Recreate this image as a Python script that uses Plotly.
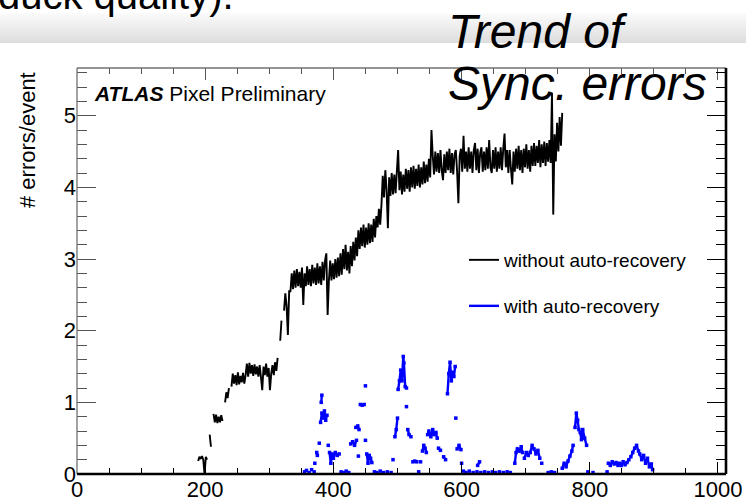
import numpy as np
import plotly.graph_objects as go

# ---------------- data ----------------
# black series "without auto-recovery": values every 2 units starting at 189
black_x0 = 189
black_dx = 2
black_y = [
    0.18, 0.24, 0.21, 0.25, 0.20, 0.00, 0.24, 0.20,              # 189-203
    None,                                                        # 205
    0.55, 0.38,                                                  # 207-209
    None,                                                        # 211
    0.84, 0.72, 0.83, 0.71, 0.80, 0.72, 0.82, 0.74,              # 213-227
    None,                                                        # 229
    1.00, 1.14, 1.06, 1.20,                                      # 231-237
    None,                                                        # 239
    1.22, 1.40, 1.26, 1.38, 1.24, 1.42, 1.25, 1.37, 1.28, 1.41, 1.26,   # 241-261
    1.38, 1.54, 1.36, 1.55, 1.40, 1.52, 1.37, 1.53, 1.39, 1.50,  # 263-281
    1.36, 1.52, 1.35, 1.17, 1.50, 1.38, 1.54, 1.36, 1.48, 1.17,  # 283-301
    1.40, 1.52, 1.38, 1.56, 1.44, 1.62,                          # 303-313
    None,                                                        # 315
    1.86, 2.14,                                                  # 317-319
    None,                                                        # 321
    2.28, 2.52, 2.34, 1.94, 2.55,                                # 323-331
    2.55, 2.80, 2.58, 2.84, 2.60, 2.86, 2.62, 2.82, 2.60, 2.88,  # 333-351
    2.36, 2.80, 2.62, 2.90, 2.64, 2.86, 2.62, 2.92, 2.66, 2.88,  # 353-371
    2.64, 2.94, 2.66, 2.90, 2.64, 2.96, 2.70, 2.98, 3.08, 2.22,  # 373-391
    2.70, 2.98, 2.70, 2.94, 2.72, 3.00, 2.74, 3.02, 2.76,        # 393-409
    3.08, 2.78, 3.14, 2.86, 3.20, 2.84, 3.10, 2.80, 3.18, 2.90,  # 411-429
    3.24, 2.98, 3.30, 3.04,                                      # 431-437
    3.40, 3.14, 3.44, 3.18, 3.48, 3.16, 3.44, 3.20, 3.50, 3.22,  # 439-457
    3.48, 3.24, 3.56, 3.30, 3.60,                                # 459-467
    3.44, 3.70, 3.48, 3.76,                                      # 469-475
    4.16, 3.86, 4.24, 3.96,                                      # 477-483
    3.43,                                                        # 485
    4.14, 3.88, 4.20, 3.90, 4.18, 3.92, 4.22, 4.52, 3.96, 4.22,  # 487-505
    3.90, 4.18, 3.94, 4.26, 3.98, 4.24, 3.94, 4.28, 4.00, 4.30,  # 507-525
    3.98, 4.26, 4.02, 4.32, 4.00, 4.28, 4.04, 4.36, 4.06, 4.32,  # 527-545
    4.08, 4.40, 4.14, 4.80,                                      # 547-553
    4.44, 4.18, 4.50, 4.22, 4.48, 4.20, 4.52, 4.24, 4.10, 4.46,  # 555-573
    4.20, 4.50, 4.24, 4.54, 4.20, 4.48, 4.18, 4.46, 4.52, 4.22,  # 575-593
    3.78, 4.44, 4.54, 4.22, 4.72, 4.26, 4.50, 4.22, 4.56, 4.26,  # 595-613
    4.50, 4.20, 4.52, 4.62, 4.24, 4.54, 4.20, 4.48, 4.56, 4.22,  # 615-633
    4.50, 4.24, 4.56, 4.26, 4.66, 4.28, 4.20, 4.52, 4.26, 4.56,  # 635-653
    4.22, 4.50, 4.26, 4.56, 4.24, 4.54, 4.75, 4.28, 4.52, 4.20,  # 655-673
    4.52, 4.26, 4.04, 4.50, 4.22, 4.54, 4.26, 4.58, 4.24, 4.52,  # 675-693
    4.20, 4.54, 4.28, 4.60, 4.26, 4.52, 4.22, 4.58, 4.30, 4.62,  # 695-713
    4.30, 4.58, 4.34, 4.66, 4.28, 4.60, 4.34, 4.64, 4.30, 4.62,  # 715-733
    4.36, 4.66, 4.34,                                            # 735-739
    5.32, 3.62, 4.74, 4.36, 4.90, 4.50, 4.98, 4.58, 5.04,        # 741-757
]
black_x = [black_x0 + black_dx * i for i in range(len(black_y))]

# blue series "with auto-recovery": sparse clusters (None = gap)
blue_x = [355, None, 358, None, 362, None, 366, None, 370, None, 371, None, 374, 375, None, 378, None,
          381, 382, None, 380, 382, 384, 386, 388, 390, None, 392, None,
          394, 396, 398, 400, 403, 406, 409, None, 412, None, 416, None, 420, None, 424, None,
          427, 430, 433, 436, None, 435, 438, 440, None, 439, None,
          442, 445, 448, None, 450, None, 450, None, 452, 454, 456, 458, 460, None,
          464, None, 468, None, 473, None, 478, None, 484, None, 490, None, 493, None,
          496, 498, 500, None,
          501, 503, 505, 507, 509, 510, 512, 514, None, 514, None,
          516, 518, 521, None, 524, 527, 530, None, 533, None, 536, None,
          539, 541, 543, 545, None, 547, 549, 552, 555, 557, 560, 562, None,
          564, 567, None, 572, 575, None, 578, 580, 582, 584, 586, 588, 590, None,
          591, None, 593, 596, 599, None, 600, None,
          603, None, 607, None, 612, None, 618, None, 624, None, 630, None, 636, None,
          642, None, 648, None, 625, 628, None,
          653, None, 659, None, 665, None, 671, None, 676, None,
          683, 685, 687, 690, 693, 695, None,
          698, 701, 704, 707, 710, 713, 716, 719, 722, None, 725, None,
          735, None, 740, None, 745, None, 757, 760, 763, 766, 769, 772, 774, None,
          777, 779, 781, 783, None, 785, 787, 789, 792, 795, None, 797, None,
          805, None, 827, None, 829, 832, 835, 838, 841, 844, None,
          846, 849, 852, 855, 858, 861, None, 864, 867, 870, 873, 876, None,
          878, 881, 884, 887, 890, 893, 896, 898]
blue_y = [0.03, None, 0.05, None, 0.02, None, 0.06, None, 0.03, None, 0.15, None, 0.30, 0.26, None, 0.43, None,
          1.00, 1.10, None, 0.72, 0.85, 0.78, 0.88, 0.75, 0.82, None, 0.40, None,
          0.30, 0.15, 0.28, 0.22, 0.30, 0.26, 0.28, None, 0.03, None, 0.02, None, 0.04, None, 0.02, None,
          0.42, 0.45, 0.40, 0.47, None, 0.65, 0.67, 0.62, None, 0.25, None,
          0.97, 0.96, 0.97, None, 1.23, None, 0.47, None, 0.28, 0.15, 0.26, 0.22, 0.16, None,
          0.03, None, 0.02, None, 0.04, None, 0.02, None, 0.03, None, 0.02, None, 0.20, None,
          0.52, 0.62, 0.78, None,
          1.18, 1.30, 1.45, 1.30, 1.64, 1.55, 1.22, 1.20, None, 0.94, None,
          0.62, 0.55, 0.52, None, 0.17, 0.18, 0.17, None, 0.03, None, 0.17, None,
          0.32, 0.40, 0.36, 0.30, None, 0.55, 0.60, 0.52, 0.62, 0.55, 0.58, 0.50, None,
          0.36, 0.33, None, 0.24, 0.20, None, 1.12, 1.40, 1.56, 1.30, 1.42, 1.36, 1.50, None,
          0.78, None, 0.35, 0.40, 0.34, None, 0.15, None,
          0.04, None, 0.02, None, 0.04, None, 0.02, None, 0.03, None, 0.02, None, 0.03, None,
          0.02, None, 0.03, None, 0.12, 0.17, None,
          0.02, None, 0.03, None, 0.02, None, 0.03, None, 0.02, None,
          0.15, 0.30, 0.35, 0.32, 0.38, 0.30, None,
          0.22, 0.30, 0.26, 0.30, 0.40, 0.35, 0.28, 0.33, 0.22, None, 0.15, None,
          0.02, None, 0.03, None, 0.02, None, 0.08, 0.15, 0.10, 0.18, 0.25, 0.32, 0.40, None,
          0.65, 0.85, 0.75, 0.62, None, 0.58, 0.48, 0.62, 0.50, 0.40, None, 0.03, None,
          0.02, None, 0.03, None, 0.15, 0.12, 0.17, 0.14, 0.16, 0.12, None,
          0.15, 0.12, 0.17, 0.13, 0.16, 0.20, None, 0.24, 0.30, 0.36, 0.40, 0.32, None,
          0.28, 0.20, 0.26, 0.15, 0.22, 0.10, 0.14, 0.06]

x_range = [0, 1012.5]
y_range = [0, 5.666]
x_major = [0, 200, 400, 600, 800, 1000]
y_major = [0, 1, 2, 3, 4, 5]

black_name = "without auto-recovery"
blue_name = "with auto-recovery"

# ---------------- layout geometry ----------------
W, H = 746, 498
L, R, T, B = 77, 726, 68, 474
FONT = "Liberation Sans, Arial, Helvetica, sans-serif"


def fx(px):
    return (px - L) / (R - L)


def fy(py):
    return (B - py) / (B - T)


fig = go.Figure()

fig.add_trace(go.Scatter(
    x=black_x, y=black_y, mode="lines", name=black_name,
    line=dict(color="black", width=1.9, simplify=False), connectgaps=False,
    legend="legend",
))
fig.add_trace(go.Scatter(
    x=blue_x, y=blue_y, mode="lines", name=blue_name,
    line=dict(color="#0000ff", width=2.4, simplify=False), connectgaps=False,
    legend="legend2",
))
fig.add_trace(go.Scatter(
    x=blue_x, y=blue_y, mode="markers", showlegend=False,
    marker=dict(color="#0000ff", size=3.5, symbol="square", line=dict(width=0)),
))
# helper trace to realise mirrored axes (top / right)
fig.add_trace(go.Scatter(x=[None], y=[None], xaxis="x2", yaxis="y2",
                         showlegend=False, hoverinfo="skip"))

tickfont = dict(family=FONT, size=22, color="black")
fig.update_layout(
    width=W, height=H,
    margin=dict(l=L, r=W - R, t=T, b=H - B, pad=0, autoexpand=False),
    paper_bgcolor="white", plot_bgcolor="white",
    font=dict(family=FONT, color="black"),
    xaxis=dict(range=x_range, tickvals=x_major, ticks="inside", ticklen=12,
               tickwidth=1, tickcolor="black", showgrid=False, zeroline=False,
               showline=False, tickfont=tickfont, automargin=False,
               minor=dict(dtick=50, tick0=0, ticks="inside", ticklen=6,
                          tickcolor="black", tickwidth=1, showgrid=False)),
    xaxis2=dict(range=x_range, overlaying="x", side="top", tickvals=x_major,
                ticks="inside", ticklen=12, tickwidth=1, tickcolor="#555555",
                showticklabels=False, showgrid=False, zeroline=False, showline=False,
                automargin=False,
                minor=dict(dtick=50, tick0=0, ticks="inside", ticklen=6,
                           tickcolor="#555555", tickwidth=1, showgrid=False)),
    yaxis=dict(range=y_range, tickvals=y_major, ticks="inside", ticklen=19,
               tickwidth=1, tickcolor="#555555", showgrid=False, zeroline=False,
               showline=False, tickfont=tickfont, automargin=False,
               minor=dict(dtick=0.2, tick0=0, ticks="inside", ticklen=10,
                          tickcolor="#555555", tickwidth=1, showgrid=False)),
    yaxis2=dict(range=y_range, overlaying="y", side="right", tickvals=y_major,
                ticks="inside", ticklen=19, tickwidth=1, tickcolor="black",
                showticklabels=False, showgrid=False, zeroline=False, showline=False,
                automargin=False,
                minor=dict(dtick=0.2, tick0=0, ticks="inside", ticklen=10,
                           tickcolor="black", tickwidth=1, showgrid=False)),
    legend=dict(x=fx(464), y=fy(260), xanchor="left", yanchor="middle",
                bgcolor="rgba(0,0,0,0)", borderwidth=0,
                font=dict(family=FONT, size=19, color="black")),
    legend2=dict(x=fx(464), y=fy(306), xanchor="left", yanchor="middle",
                 bgcolor="rgba(0,0,0,0)", borderwidth=0,
                 font=dict(family=FONT, size=19, color="black")),
    showlegend=True,
)

shapes = []
# slide header gradient band
n_band = 15
for i in range(n_band):
    y0p = 13 + i * 2
    g = int(253 - (253 - 222) * (i + 1) / n_band)
    shapes.append(dict(type="rect", xref="paper", yref="paper", layer="below",
                       x0=fx(0), x1=fx(W), y0=fy(y0p + 2), y1=fy(y0p),
                       fillcolor=f"rgb({g},{g},{g})", line=dict(width=0)))
# frame
shapes += [
    dict(type="line", xref="paper", yref="paper", x0=0, x1=0, y0=0, y1=1,
         line=dict(color="#707070", width=1.3), layer="above"),
    dict(type="line", xref="paper", yref="paper", x0=0, x1=1, y0=1, y1=1,
         line=dict(color="#707070", width=1.3), layer="above"),
    dict(type="line", xref="paper", yref="paper", x0=0, x1=1, y0=0, y1=0,
         line=dict(color="black", width=2.6), layer="above"),
    dict(type="line", xref="paper", yref="paper", x0=1, x1=1, y0=0, y1=1,
         line=dict(color="black", width=2.6), layer="above"),
]
fig.update_layout(shapes=shapes)

annotations = [
    dict(text="<b><i>ATLAS</i></b> Pixel Preliminary", x=fx(92), y=fy(93.5),
         xanchor="left", yanchor="middle", showarrow=False,
         font=dict(family=FONT, size=21, color="black")),
    dict(text="# errors/event", x=fx(27), y=fy(140), textangle=-90,
         xanchor="center", yanchor="middle", showarrow=False,
         font=dict(family=FONT, size=22, color="black")),
    dict(text="<i>Trend of</i>", x=fx(446), y=fy(31), xanchor="left",
         yanchor="middle", showarrow=False,
         font=dict(family=FONT, size=48, color="black")),
    dict(text="<i>Sync. errors</i>", x=fx(446), y=fy(84), xanchor="left",
         yanchor="middle", showarrow=False,
         font=dict(family=FONT, size=48, color="black")),
    dict(text="duck quality).", x=fx(236), y=fy(-5), xanchor="right",
         yanchor="middle", showarrow=False,
         font=dict(family=FONT, size=40, color="black")),
]
for a in annotations:
    a.update(xref="paper", yref="paper")
fig.update_layout(annotations=annotations)

fig.write_html("out.html")
